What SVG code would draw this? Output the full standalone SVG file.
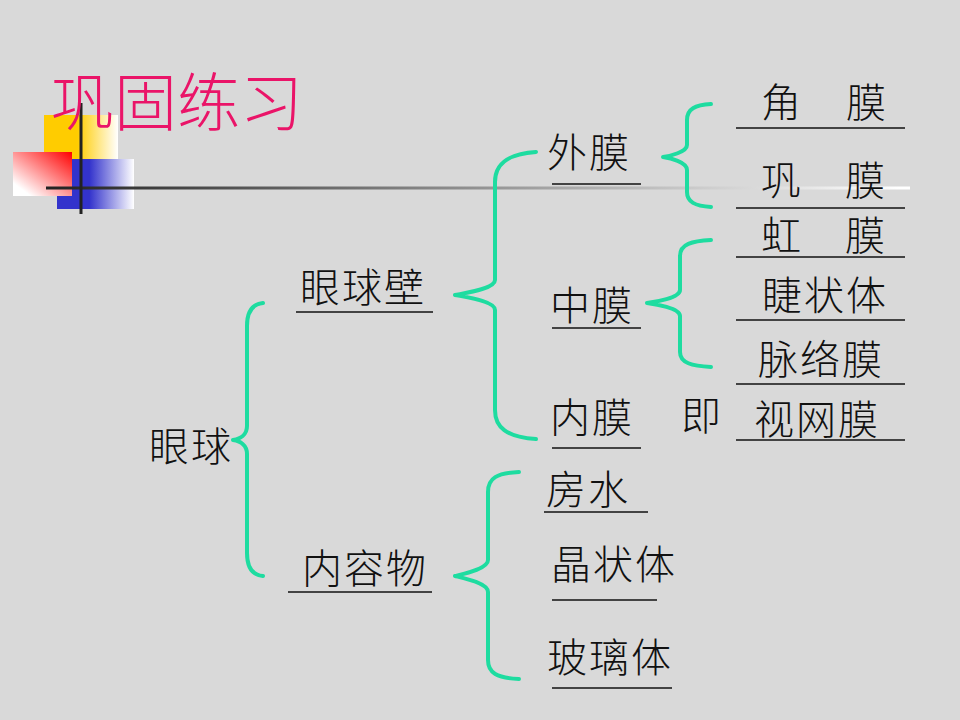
<svg xmlns="http://www.w3.org/2000/svg" width="960" height="720" viewBox="0 0 960 720">
<style>
.t{font-family:"Noto Sans CJK SC","Noto Sans CJK JP",sans-serif;font-size:40px;font-weight:300;fill:#111;letter-spacing:2px}
.u{stroke:#111;stroke-width:1.5;fill:none}
.b{stroke:#1EDCA0;stroke-width:4;fill:none;stroke-linecap:round;stroke-linejoin:round}
</style>
<defs>
<linearGradient id="gy" x1="0" y1="0" x2="1" y2="0"><stop offset="0" stop-color="#FFCC00"/><stop offset="0.45" stop-color="#FFCC00"/><stop offset="1" stop-color="#FFFFFF"/></linearGradient>
<linearGradient id="gb" x1="0" y1="0" x2="1" y2="0"><stop offset="0" stop-color="#3333CC"/><stop offset="0.42" stop-color="#3333CC"/><stop offset="1" stop-color="#FFFFFF"/></linearGradient>
<linearGradient id="gr" x1="1" y1="0" x2="0" y2="1"><stop offset="0" stop-color="#FF0000"/><stop offset="0.85" stop-color="#FFFFFF"/></linearGradient>
<linearGradient id="gl" gradientUnits="userSpaceOnUse" x1="46" y1="0" x2="900" y2="0"><stop offset="0" stop-color="#222222"/><stop offset="1" stop-color="#FFFFFF"/></linearGradient>
</defs>
<rect width="960" height="720" fill="#D9D9D9"/>
<g id="decor">
<rect x="44" y="115" width="74" height="45" fill="url(#gy)"/>
<rect x="57" y="159" width="77" height="50" fill="url(#gb)"/>
<rect x="13" y="152" width="59" height="44" fill="url(#gr)"/>
<rect x="46" y="186.5" width="864" height="3" fill="url(#gl)"/>
<rect x="79.5" y="103" width="3" height="111" fill="#222"/>
</g>
<text id="title" x="51" y="125" style="font-family:'Noto Sans CJK SC',sans-serif;font-size:63px;font-weight:300;fill:#EA1468">巩固练习</text>
<g id="connectors">
<path class="b" d="M263,303 C252,304 247,312 247,326 L247,426 C247,435 240,439 233,440 C240,441 247,445 247,454 L247,553 C247,567 252,575 263,576"/>
<path class="b" d="M536,152 C506,154 495,165 495,182 L495,280 C495,289 465,293 455,295 C465,297 495,301 495,310 L495,410 C495,427 506,437 536,439"/>
<path class="b" d="M711,104 C695,105 687,109 687,120 L687,145 C687,152 670,156 663,157 C670,158 687,162 687,170 L687,192 C687,202 695,206 711,207"/>
<path class="b" d="M711,240 C692,241 680,244 680,256 L680,290 C680,298 655,302 647,303 C655,304 680,308 680,316 L680,352 C680,363 692,366 711,367"/>
<path class="b" d="M519,472 C497,473 488,478 488,492 L488,560 C488,569 463,574 455,576 C463,578 488,583 488,592 L488,660 C488,673 497,678 519,679"/>
</g>
<g id="n-yanqiu"><text class="t" x="149" y="461">眼球</text></g>
<g id="n-yanqiubi"><text class="t" x="300" y="302">眼球壁</text><line class="u" x1="296" y1="312" x2="433" y2="312"/></g>
<g id="n-neirongwu"><text class="t" x="302" y="583">内容物</text><line class="u" x1="288" y1="592" x2="432" y2="592"/></g>
<g id="n-waimo"><text class="t" x="547" y="167">外膜</text><line class="u" x1="552" y1="184" x2="641" y2="184"/></g>
<g id="n-zhongmo"><text class="t" x="550" y="320">中膜</text><line class="u" x1="552" y1="328" x2="641" y2="328"/></g>
<g id="n-neimo"><text class="t" x="550" y="432">内膜</text><line class="u" x1="552" y1="448" x2="641" y2="448"/></g>
<g id="n-ji"><text class="t" x="681" y="430">即</text></g>
<g id="n-jiaomo"><text class="t" y="117"><tspan x="761">角</tspan><tspan x="846">膜</tspan></text><line class="u" x1="736" y1="128" x2="905" y2="128"/></g>
<g id="n-gongmo"><text class="t" y="195"><tspan x="761">巩</tspan><tspan x="845">膜</tspan></text><line class="u" x1="736" y1="208" x2="905" y2="208"/></g>
<g id="n-hongmo"><text class="t" y="250"><tspan x="761">虹</tspan><tspan x="845">膜</tspan></text><line class="u" x1="736" y1="257" x2="905" y2="257"/></g>
<g id="n-jiezhuangti"><text class="t" x="762" y="310">睫状体</text><line class="u" x1="736" y1="320" x2="905" y2="320"/></g>
<g id="n-mailuomo"><text class="t" x="758" y="374">脉络膜</text><line class="u" x1="736" y1="384" x2="905" y2="384"/></g>
<g id="n-shiwangmo"><text class="t" x="754" y="434">视网膜</text><line class="u" x1="736" y1="440" x2="905" y2="440"/></g>
<g id="n-fangshui"><text class="t" x="546" y="504">房水</text><line class="u" x1="544" y1="512" x2="648" y2="512"/></g>
<g id="n-jingzhuangti"><text class="t" x="551" y="579">晶状体</text><line class="u" x1="552" y1="600" x2="657" y2="600"/></g>
<g id="n-boliti"><text class="t" x="547" y="672">玻璃体</text><line class="u" x1="552" y1="688" x2="672" y2="688"/></g>
</svg>
